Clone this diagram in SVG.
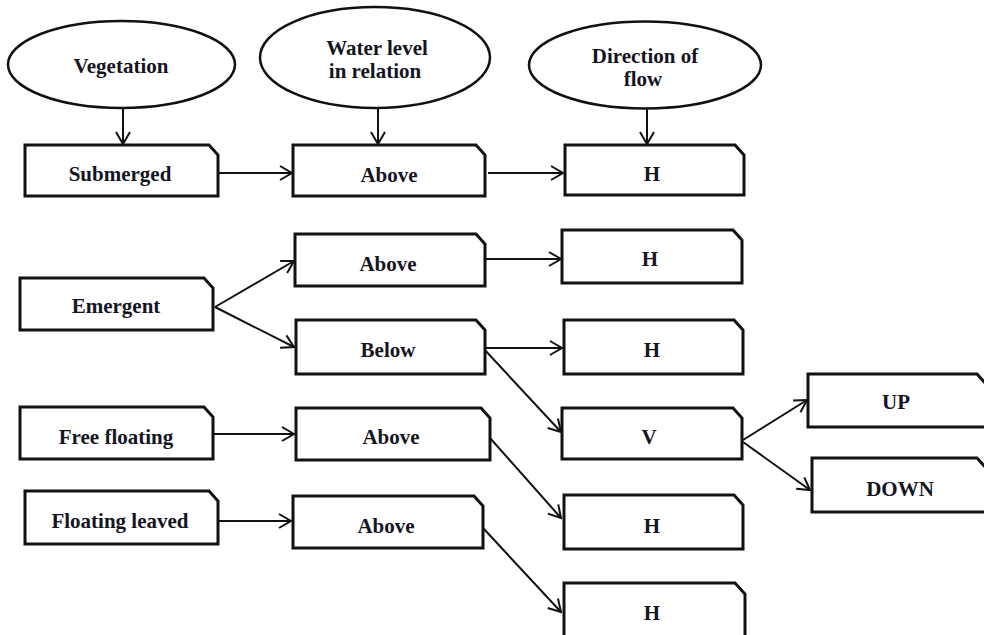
<svg xmlns="http://www.w3.org/2000/svg" width="984" height="635" viewBox="0 0 984 635">
<defs>
<style>
.box{fill:#fff;stroke:#111;stroke-width:3;stroke-linejoin:miter}
.ell{fill:#fff;stroke:#111;stroke-width:2.5}
.t{font-family:"Liberation Serif","Times New Roman",serif;font-weight:bold;font-size:21px;fill:#15151f;text-anchor:middle}
.c{stroke:#111;stroke-width:2;fill:none;marker-end:url(#ah)}
</style>
<marker id="ah" markerUnits="userSpaceOnUse" markerWidth="16" markerHeight="18" viewBox="0 0 16 18" refX="14" refY="9" orient="auto">
<path d="M2,2 L14,9 L2,16" fill="none" stroke="#111" stroke-width="2"/>
</marker>
</defs>
<rect width="984" height="635" fill="#fff"/>

<g id="connectors">
<line class="c" x1="123" y1="108" x2="123" y2="144"/>
<line class="c" x1="378" y1="107" x2="378" y2="144"/>
<line class="c" x1="647" y1="108" x2="647" y2="144"/>
<line class="c" x1="219" y1="173" x2="292" y2="173"/>
<line class="c" x1="488" y1="173" x2="563" y2="173"/>
<line class="c" x1="215" y1="307" x2="294" y2="261"/>
<line class="c" x1="215" y1="307" x2="294" y2="347"/>
<line class="c" x1="486" y1="259" x2="561" y2="259"/>
<line class="c" x1="483" y1="348" x2="562" y2="348"/>
<line class="c" x1="483" y1="348" x2="561" y2="432"/>
<line class="c" x1="214" y1="434" x2="294" y2="434"/>
<line class="c" x1="219" y1="521" x2="291" y2="521"/>
<line class="c" x1="490" y1="438" x2="561" y2="518"/>
<line class="c" x1="483" y1="528" x2="561" y2="612"/>
<line class="c" x1="743" y1="440" x2="807" y2="400"/>
<line class="c" x1="743" y1="442" x2="810" y2="490"/>
</g>

<g id="vegetation"><ellipse class="ell" cx="121.5" cy="64.5" rx="113.5" ry="43.5"/><text class="t" x="121" y="73">Vegetation</text></g>
<g id="water-level"><ellipse class="ell" cx="375" cy="57.5" rx="115" ry="50.5"/><text class="t" x="377" y="55">Water level</text><text class="t" x="375" y="78">in relation</text></g>
<g id="direction"><ellipse class="ell" cx="645" cy="65" rx="116" ry="43.5"/><text class="t" x="645" y="63">Direction of</text><text class="t" x="643" y="86">flow</text></g>

<g id="submerged"><path class="box" d="M25,145 H209 L218,155 V196 H25 Z"/><text class="t" x="120" y="181">Submerged</text></g>
<g id="above1"><path class="box" d="M293,145 H476 L485,155 V196 H293 Z"/><text class="t" x="389" y="182">Above</text></g>
<g id="h1"><path class="box" d="M565,145 H735 L744,155 V195 H565 Z"/><text class="t" x="652" y="181">H</text></g>

<g id="emergent"><path class="box" d="M20,278 H204 L213,288 V330 H20 Z"/><text class="t" x="116" y="313">Emergent</text></g>
<g id="above2"><path class="box" d="M295,234 H476 L485,244 V286 H295 Z"/><text class="t" x="388" y="271">Above</text></g>
<g id="below"><path class="box" d="M296,320 H476 L485,330 V374 H296 Z"/><text class="t" x="388" y="357">Below</text></g>
<g id="h2"><path class="box" d="M562,230 H733 L742,240 V283 H562 Z"/><text class="t" x="650" y="266">H</text></g>
<g id="h3"><path class="box" d="M564,320 H734 L743,330 V374 H564 Z"/><text class="t" x="652" y="357">H</text></g>

<g id="free-floating"><path class="box" d="M20,407 H204 L213,417 V459 H20 Z"/><text class="t" x="116" y="444">Free floating</text></g>
<g id="above3"><path class="box" d="M296,408 H481 L490,418 V460 H296 Z"/><text class="t" x="391" y="444">Above</text></g>
<g id="v"><path class="box" d="M562,408 H733 L742,418 V459 H562 Z"/><text class="t" x="649" y="444">V</text></g>
<g id="up"><path class="box" d="M808,374 H977 L987,385 V427 H808 Z"/><text class="t" x="896" y="409">UP</text></g>
<g id="down"><path class="box" d="M812,458 H977 L987,469 V512 H812 Z"/><text class="t" x="900" y="496">DOWN</text></g>

<g id="floating-leaved"><path class="box" d="M25,491 H209 L218,501 V544 H25 Z"/><text class="t" x="120" y="528">Floating leaved</text></g>
<g id="above4"><path class="box" d="M293,496 H474 L483,506 V548 H293 Z"/><text class="t" x="386" y="533">Above</text></g>
<g id="h4"><path class="box" d="M564,495 H734 L743,505 V549 H564 Z"/><text class="t" x="652" y="533">H</text></g>
<g id="h5"><path class="box" d="M564,583 H735 L745,594 V638 H564 Z"/><text class="t" x="652" y="620">H</text></g>
</svg>
